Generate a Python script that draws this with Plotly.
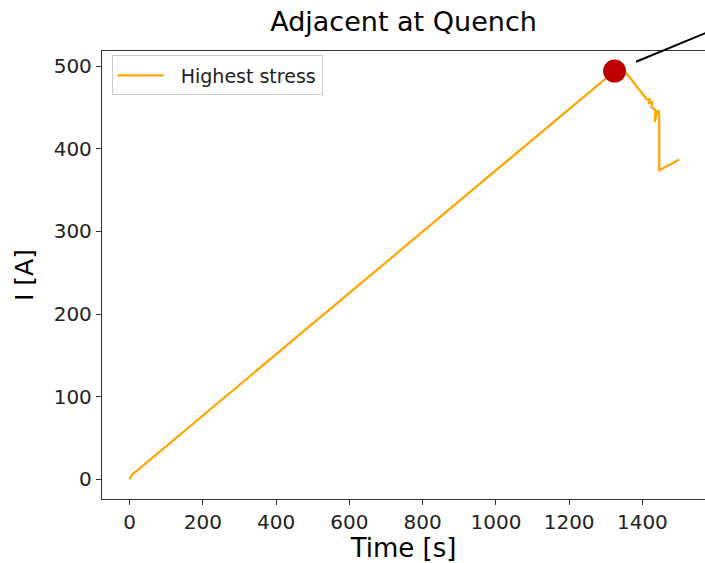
import plotly.graph_objects as go

# Data
time_s = [0, 5, 1324, 1357, 1407, 1412, 1421, 1416, 1427, 1425, 1436, 1434, 1439, 1443, 1446, 1446, 1501]
current_a = [0, 5, 494, 491, 462.6, 459.5, 460.7, 454.7, 456.6, 450.5, 446.5, 432.4, 442.6, 446.5, 442, 374, 387]

peak_time = [1324]
peak_current = [494]

x_ticks = [0, 200, 400, 600, 800, 1000, 1200, 1400]
y_ticks = [0, 100, 200, 300, 400, 500]

FONT = "DejaVu Sans"

fig = go.Figure()
fig.add_trace(go.Scatter(
    x=time_s, y=current_a, mode="lines", name="  Highest stress",
    line=dict(color="#FFA500", width=2.2),
))
fig.add_trace(go.Scatter(
    x=peak_time, y=peak_current, mode="markers", showlegend=False,
    marker=dict(color="#C00000", size=23, line=dict(width=0)),
    cliponaxis=False,
))

# annotation pointer line (goes off the figure to the upper right)
fig.add_shape(type="line", xref="paper", yref="paper",
              x0=0.8856, y0=0.9761, x1=1.06, y1=1.073,
              line=dict(color="black", width=2))

fig.update_layout(
    width=705, height=563,
    margin=dict(l=102, r=0, t=51, b=64),
    paper_bgcolor="white", plot_bgcolor="white",
    font=dict(family=FONT, color="black", size=20),
    title=dict(text="Adjacent at Quench", x=0.5, xref="paper", xanchor="center",
               y=1 - 22 / 563, yanchor="middle",
               font=dict(size=27, family=FONT, color="black")),
    showlegend=True,
    legend=dict(x=0.016, y=0.99, xanchor="left", yanchor="top",
                bgcolor="rgba(255,255,255,0.8)", bordercolor="#cccccc", borderwidth=1,
                itemwidth=46, tracegroupgap=0,
                font=dict(size=19, family=FONT, color="#222222")),
)

fig.update_xaxes(
    range=[-75.7, 1571], tickvals=x_ticks, ticktext=[str(v) for v in x_ticks],
    showgrid=False, zeroline=False, showline=True, linecolor="#333333", linewidth=1.3,
    mirror=True, ticks="outside", ticklen=5, tickwidth=1.2, tickcolor="#333333",
    tickfont=dict(size=20, family=FONT, color="#222222"),
    title=dict(text="Time [s]", font=dict(size=26, family=FONT, color="black"), standoff=4),
)
fig.update_yaxes(
    range=[-23.8, 518.3], tickvals=y_ticks, ticktext=[str(v) for v in y_ticks],
    showgrid=False, zeroline=False, showline=True, linecolor="#333333", linewidth=1.3,
    mirror=False, ticks="outside", ticklen=5, tickwidth=1.2, tickcolor="#333333",
    tickfont=dict(size=20, family=FONT, color="#222222"),
    title=dict(text="I [A]", font=dict(size=25, family=FONT, color="black"), standoff=12),
)

fig.write_html("out.html")
